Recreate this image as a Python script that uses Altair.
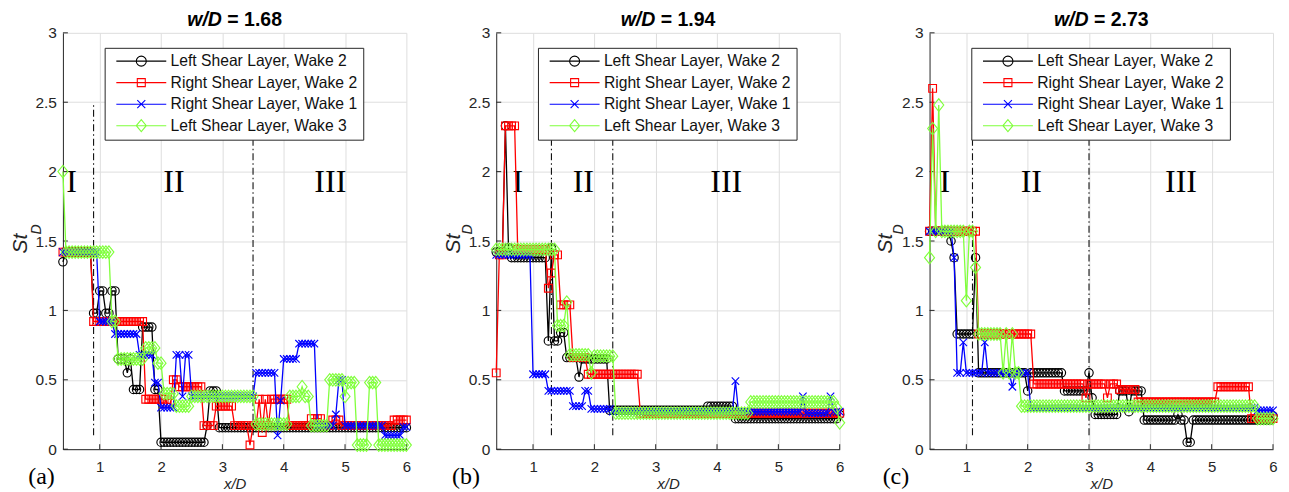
import altair as alt
import pandas as pd

# ---------------- data ----------------
X_GRID = [round(0.4 + 0.05 * i, 2) for i in range(113)]

SERIES = ["Left Shear Layer, Wake 2", "Right Shear Layer, Wake 2",
          "Right Shear Layer, Wake 1", "Left Shear Layer, Wake 3"]
COLORS = ["#000000", "#ff0000", "#0000ff", "#80ff3c"]

# panel (a) w/D = 1.68
A_LS2 = ([1.35] + [1.42]*9 + [0.98]*2 + [1.14]*2 + [0.98]*2 + [1.14]*2 + [0.65]*3 + [0.55] + [0.65]
         + [0.43]*3 + [0.88]*4 + [0.43]*2 + [0.05]*15 + [0.17] + [0.42]*3 + [0.155]*62)
A_RS2 = ([1.42]*10 + [0.92]*17 + [0.36]*7 + [0.33]*2 + [0.50]*2 + [0.45]*8 + [0.17]*4 + [0.31]*6
         + [0.17]*5 + [0.03] + [0.17]*2 + [0.36] + [0.12] + [0.36] + [0.17] + [0.36]*6 + [0.17]*7
         + [0.22]*4 + [0.17]*3 + [0.21]*3 + [0.17]*17 + [0.21]*5)
A_RW1 = ([1.42]*12 + [0.92]*5 + [0.83]*8 + [0.68]*5 + [0.48]*2 + [0.30]*5 + [0.68]*2 + [0.38]
         + [0.68]*2 + [0.38]*21 + [0.55]*7 + [0.10] + [0.35] + [0.65]*5 + [0.76]*6 + [0.17]*6
         + [0.25] + [0.50]*2 + [0.17]*13 + [0.10]*6 + [0.16]*2)
A_LW3 = ([2.00] + [1.42]*15 + [0.92]*2 + [0.65]*9 + [0.73]*4 + [0.62]*2 + [0.40]*4 + [0.31]*5
         + [0.38]*21 + [0.18]*11 + [0.38]*4 + [0.45] + [0.38]*2 + [0.17]*6 + [0.50]*5 + [0.38]
         + [0.48]*3 + [0.03]*4 + [0.48]*3 + [0.03]*10)

# panel (b) w/D = 1.94
B_LS2 = ([1.42]*3 + [2.33] + [1.45] + [1.38]*12 + [0.78] + [1.45] + [0.78]*2 + [0.84]*2 + [0.66]*4
         + [0.52] + [0.65]*9 + [0.28]*32 + [0.31]*9 + [0.22]*34 + [0.25])
B_RS2 = ([0.55] + [1.40]*2 + [2.33]*4 + [1.44]*10 + [1.16] + [1.27] + [1.40]*2 + [1.04]*4
         + [0.66]*5 + [0.54]*17 + [0.26]*66)
B_RW1 = ([1.40]*12 + [0.54]*5 + [0.42]*8 + [0.31]*4 + [0.42]*2 + [0.29]*7 + [0.27]*40 + [0.49]
         + [0.27]*21 + [0.38] + [0.26]*8 + [0.38] + [0.27]*3)
B_LW3 = ([1.44]*20 + [0.89]*3 + [1.06] + [0.68]*7 + [0.55] + [0.67]*7 + [0.26]*44 + [0.34]*28
         + [0.30] + [0.19])

# panel (c) w/D = 2.73
C_LS2 = ([1.57]*7 + [1.50] + [1.38] + [0.83]*6 + [1.38] + [0.55]*16 + [0.42] + [0.55]*11 + [0.42]*8
         + [0.55] + [0.37] + [0.25]*8 + [0.42]*3 + [0.27] + [0.42]*4 + [0.21]*11 + [0.25]
         + [0.21]*2 + [0.05]*2 + [0.21]*26 + [0.24])
C_RS2 = ([1.57] + [2.60] + [1.57]*14 + [0.83]*18 + [0.47]*17 + [0.37] + [0.47]*6 + [0.37]
         + [0.47]*3 + [0.43]*6 + [0.34]*26 + [0.45]*11 + [0.22]*8)
C_RW1 = ([1.57]*8 + [1.38] + [0.55] + [0.55] + [0.77] + [0.55]*6 + [0.77] + [0.55]*8 + [0.45]
         + [0.55]*5 + [0.30]*74 + [0.28]*6)
C_LW3 = ([1.38] + [2.31] + [1.57] + [2.48] + [1.57]*8 + [1.07] + [1.57]*2 + [1.31] + [0.83]*8
         + [0.55] + [0.83] + [0.55] + [0.83] + [0.55]*2 + [0.31]*77 + [0.22]*6)

PANEL_DATA = [[A_LS2, A_RS2, A_RW1, A_LW3],
              [B_LS2, B_RS2, B_RW1, B_LW3],
              [C_LS2, C_RS2, C_RW1, C_LW3]]
for _panel in PANEL_DATA:
    for _s in _panel:
        if len(_s) != len(X_GRID):
            raise ValueError("series length mismatch: %d" % len(_s))

W_D = ["1.68", "1.94", "2.73"]
PANEL_TAGS = ["(a)", "(b)", "(c)"]
REGION_NAMES = ["I", "II", "III"]
REGION_X = [[0.54, 2.21, 4.76], [0.75, 1.82, 4.15], [0.65, 2.06, 4.50]]
REGION_Y = 1.85
BOUNDARY_X = [[0.9, 3.5], [1.3, 2.3], [1.1, 3.0]]
BOUNDARY_Y = [0.1, 2.5]
X_TICKS = [1, 2, 3, 4, 5, 6]
Y_TICKS = [0, 0.5, 1, 1.5, 2, 2.5, 3]
X_MIN, X_MAX, Y_MIN, Y_MAX = 0.4, 6, 0, 3

# ---------------- styling ----------------
W, H = 344, 417
FONT = "Liberation Sans"
SERIF = "Liberation Serif"
AXC = "#262626"
MARKERS = ["circle", "square", "M-1,-1L1,1M-1,1L1,-1", "M-1,0L0,-1.25L1,0L0,1.25Z"]
MARKER_SIZES = [70, 60, 56, 100]
LEGEND_PATHS = [
    "M-5,0H5M1,0A1,1,0,1,1,-1,0A1,1,0,1,1,1,0",
    "M-5,0H5M-0.8,-0.8H0.8V0.8H-0.8Z",
    "M-5,0H5M-0.8,-0.8L0.8,0.8M-0.8,0.8L0.8,-0.8",
    "M-5,0H5M-1,0L0,-1.2L1,0L0,1.2Z",
]
TICK_LEN_PX = 5
TAG_X = [-34.8, -44.3, -47.0]
ST_X = [-41.5, -42.5, -43.5]
D_X = [-25.5, -28.5, -31.0]


def text_layer(txt, x, y, **kw):
    return alt.Chart(pd.DataFrame({"t": [txt]})).mark_text(**kw).encode(
        x=alt.value(x), y=alt.value(y), text="t:N")


def make_panel(i):
    xaxis = alt.Axis(values=X_TICKS, format="~g", title="x/D", titleFont=FONT,
                     titleFontStyle="italic", titleFontWeight="normal", titleFontSize=15,
                     titleColor=AXC, titlePadding=1.7, labelFont=FONT, labelFontSize=15,
                     labelColor=AXC, labelPadding=10.5, labelFlush=False, ticks=False,
                     tickSize=0, domainColor=AXC, domainWidth=1, gridColor="#dedede",
                     gridWidth=1)
    yaxis = alt.Axis(values=Y_TICKS, format="~g", title=None, labelFont=FONT,
                     labelFontSize=15.5, labelColor=AXC, labelPadding=6.5, labelFlush=False,
                     ticks=False, tickSize=0, domainColor=AXC, domainWidth=1,
                     gridColor="#dedede", gridWidth=1)
    X = alt.X("x:Q", scale=alt.Scale(domain=[X_MIN, X_MAX], nice=False, zero=False), axis=xaxis)
    Y = alt.Y("y:Q", scale=alt.Scale(domain=[Y_MIN, Y_MAX], nice=False, zero=False), axis=yaxis)

    legend = alt.Legend(
        title=None, orient="none", legendX=41.8, legendY=15,
        fillColor="white", strokeColor=AXC, padding=5.5,
        labelFont=FONT, labelFontSize=15.7, labelColor="#111111", labelLimit=400,
        labelOffset=21.5, symbolOffset=23.35, symbolSize=100, symbolStrokeWidth=1.1,
        symbolFillColor="transparent", symbolOpacity=1, rowPadding=4.55,
    )
    color = alt.Color("series:N", scale=alt.Scale(domain=SERIES, range=COLORS), legend=legend)
    shape = alt.Shape("series:N", scale=alt.Scale(domain=SERIES, range=LEGEND_PATHS),
                      legend=legend)

    layers = []
    # inward tick marks (MATLAB style) placed through the scales
    dx = TICK_LEN_PX * (X_MAX - X_MIN) / W
    dy = TICK_LEN_PX * (Y_MAX - Y_MIN) / H
    ytk = pd.DataFrame({"x": [X_MIN] * len(Y_TICKS), "x2": [X_MIN + dx] * len(Y_TICKS),
                        "y": Y_TICKS})
    xtk = pd.DataFrame({"x": X_TICKS, "y": [Y_MIN] * len(X_TICKS),
                        "y2": [Y_MIN + dy] * len(X_TICKS)})
    layers.append(alt.Chart(ytk).mark_rule(color=AXC, strokeWidth=1).encode(
        x=X, x2="x2:Q", y=Y))
    layers.append(alt.Chart(xtk).mark_rule(color=AXC, strokeWidth=1).encode(
        x=X, y=Y, y2="y2:Q"))

    rule_df = pd.DataFrame({"x": BOUNDARY_X[i], "y": [BOUNDARY_Y[0]] * 2,
                            "y2": [BOUNDARY_Y[1]] * 2})
    layers.append(alt.Chart(rule_df).mark_rule(color="#111111", strokeWidth=1.1,
                                               strokeDash=[7, 3, 1.5, 3]).encode(
        x=X, y=Y, y2="y2:Q"))
    reg_df = pd.DataFrame({"x": REGION_X[i], "y": [REGION_Y] * 3, "label": REGION_NAMES})
    layers.append(alt.Chart(reg_df).mark_text(font=SERIF, fontSize=32, baseline="alphabetic",
                                              align="center", color="black").encode(
        x=X, y=Y, text="label:N"))

    for k, s in enumerate(SERIES):
        df = pd.DataFrame({"x": X_GRID, "y": PANEL_DATA[i][k], "series": s})
        base = alt.Chart(df)
        layers.append(base.mark_line(strokeWidth=1.3).encode(x=X, y=Y, color=color))
        layers.append(base.mark_point(shape=MARKERS[k], size=MARKER_SIZES[k], filled=False,
                                      strokeWidth=1.15, opacity=1).encode(x=X, y=Y, color=color))

    # empty layer that only carries the legend's line+marker symbols
    empty = pd.DataFrame({"x": pd.Series([], dtype=float), "y": pd.Series([], dtype=float),
                          "series": pd.Series([], dtype=str)})
    layers.append(alt.Chart(empty).mark_point(size=100, filled=False, strokeWidth=1,
                                              opacity=1).encode(
        x=X, y=Y, color=color, shape=shape))

    # titles and labels
    layers.append(text_layer("w/D", 159.25, -7, font=FONT, fontSize=19.5, fontWeight="bold",
                             fontStyle="italic", align="right", baseline="alphabetic",
                             color="black"))
    layers.append(text_layer("= " + W_D[i], 164.7, -7, font=FONT, fontSize=19.5,
                             fontWeight="bold", align="left", baseline="alphabetic",
                             color="black"))
    layers.append(text_layer("St", ST_X[i], 211, font=FONT, fontSize=21, fontStyle="italic",
                             angle=270, align="center", baseline="middle", color=AXC))
    layers.append(text_layer("D", D_X[i], 197, font=FONT, fontSize=14, fontStyle="italic",
                             angle=270, align="center", baseline="middle", color=AXC))
    layers.append(text_layer(PANEL_TAGS[i], TAG_X[i], 452, font=SERIF, fontSize=24,
                             align="left", baseline="alphabetic", color="black"))
    return alt.layer(*layers).properties(width=W, height=H)


chart = alt.HConcatChart(hconcat=[make_panel(i) for i in range(3)], spacing=90, bounds="flush")
chart = (chart.resolve_legend(color="independent", shape="independent")
         .resolve_scale(color="independent", shape="independent")
         .properties(padding={"left": 2, "top": 1.5, "right": 0, "bottom": 0})
         .configure_view(strokeWidth=0))

chart.save("out.html", embed_options={"renderer": "svg", "actions": False})
